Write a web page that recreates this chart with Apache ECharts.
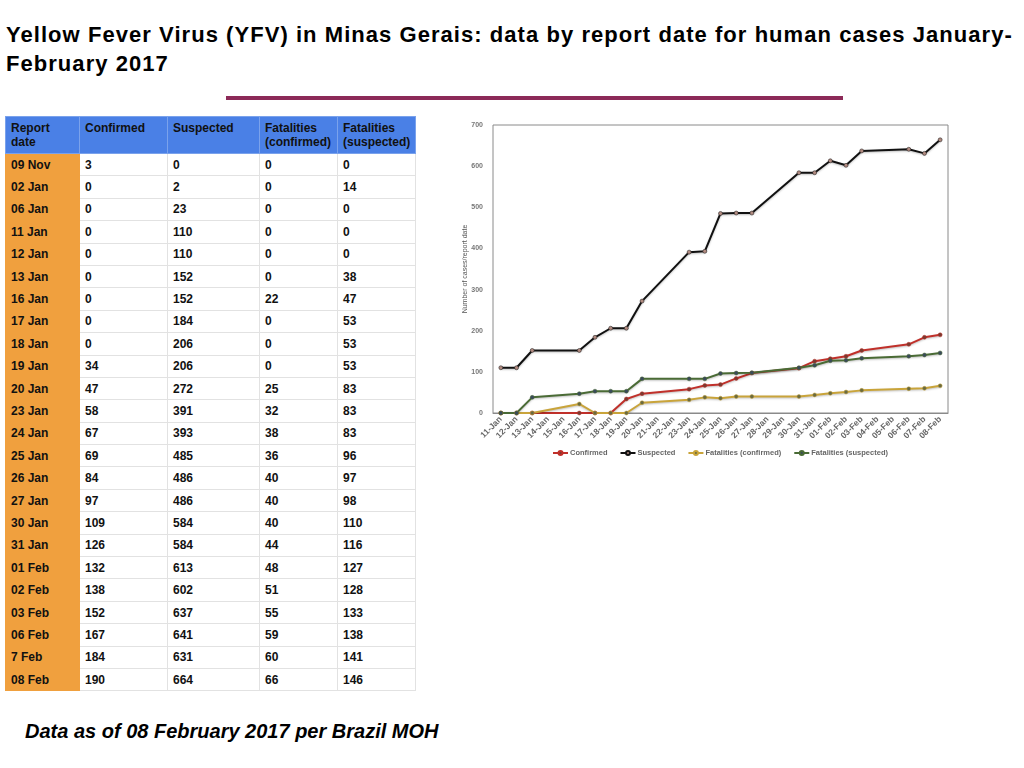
<!DOCTYPE html>
<html>
<head>
<meta charset="utf-8">
<script src="https://cdn.jsdelivr.net/npm/echarts@6/dist/echarts.min.js"></script>
<style>
  body { margin: 0; width: 1024px; height: 768px; background: #fff; font-family: "Liberation Sans", Arial, sans-serif; position: relative; overflow: hidden; }
  #title { position: absolute; left: 6px; top: 20px; font-size: 22px; letter-spacing: 1.05px; font-weight: bold; line-height: 29px; color: #000; white-space: nowrap; }
  #rule { position: absolute; left: 226px; top: 96px; width: 617px; height: 4px; background: #8c2a58; }
  #tbl { position: absolute; left: 5px; top: 116px; border-collapse: collapse; table-layout: fixed; font-size: 12px; font-weight: bold; color: #111; }
  #tbl td, #tbl th { border: 1px solid #e2e2e2; padding: 0 5px; text-align: left; vertical-align: middle; height: 22.4px; box-sizing: border-box; }
  #tbl th { background: #4a80e6; vertical-align: top; height: 37px; padding-top: 4px; line-height: 14px; border-color: #7aa2ec; }
  #tbl td.d { background: #f0a03e; border-color: #f0a03e; }
  #foot { position: absolute; left: 25px; top: 720px; font-size: 20px; font-weight: bold; font-style: italic; }
  #chart { position: absolute; left: 440px; top: 100px; width: 540px; height: 380px; }
</style>
</head>
<body>
<div id="title">Yellow Fever Virus (YFV) in Minas Gerais: data by report date for human cases January-<br>February 2017</div>
<div id="rule"></div>
<table id="tbl"></table>
<div id="foot">Data as of 08 February 2017 per Brazil MOH</div>
<div id="chart"></div>
<script>
// table columns
var headers = ['Report<br>date', 'Confirmed', 'Suspected', 'Fatalities<br>(confirmed)', 'Fatalities<br>(suspected)']
var reportDates = ['09 Nov', '02 Jan', '06 Jan', '11 Jan', '12 Jan', '13 Jan', '16 Jan', '17 Jan', '18 Jan', '19 Jan', '20 Jan', '23 Jan', '24 Jan', '25 Jan', '26 Jan', '27 Jan', '30 Jan', '31 Jan', '01 Feb', '02 Feb', '03 Feb', '06 Feb', '7 Feb', '08 Feb']
var confirmed = [3, 0, 0, 0, 0, 0, 0, 0, 0, 34, 47, 58, 67, 69, 84, 97, 109, 126, 132, 138, 152, 167, 184, 190]
var suspected = [0, 2, 23, 110, 110, 152, 152, 184, 206, 206, 272, 391, 393, 485, 486, 486, 584, 584, 613, 602, 637, 641, 631, 664]
var fatalConfirmed = [0, 0, 0, 0, 0, 0, 22, 0, 0, 0, 25, 32, 38, 36, 40, 40, 40, 44, 48, 51, 55, 59, 60, 66]
var fatalSuspected = [0, 14, 0, 0, 0, 38, 47, 53, 53, 53, 83, 83, 83, 96, 97, 98, 110, 116, 127, 128, 133, 138, 141, 146]

// chart x axis categories
var axisDates = ['11-Jan', '12-Jan', '13-Jan', '14-Jan', '15-Jan', '16-Jan', '17-Jan', '18-Jan', '19-Jan', '20-Jan',
  '21-Jan', '22-Jan', '23-Jan', '24-Jan', '25-Jan', '26-Jan', '27-Jan', '28-Jan', '29-Jan', '30-Jan', '31-Jan',
  '01-Feb', '02-Feb', '03-Feb', '04-Feb', '05-Feb', '06-Feb', '07-Feb', '08-Feb']
var yTicks = [0, 100, 200, 300, 400, 500, 600, 700]

// build the table
var tbl = document.getElementById('tbl')
var colW = [74, 88, 92, 78, 77]
var html = '<tr>' + headers.map(function (h, i) { return '<th style="width:' + colW[i] + 'px">' + h + '</th>' }).join('') + '</tr>'
reportDates.forEach(function (d, i) {
  html += '<tr><td class="d">' + d + '</td><td>' + confirmed[i] + '</td><td>' + suspected[i] +
    '</td><td>' + fatalConfirmed[i] + '</td><td>' + fatalSuspected[i] + '</td></tr>'
})
tbl.innerHTML = html

// map report dates onto the chart categories
function toKey (d) {
  var p = d.split(' ')
  return (p[0].length < 2 ? '0' + p[0] : p[0]) + '-' + p[1]
}
function seriesData (vals) {
  var out = axisDates.map(function () { return null })
  reportDates.forEach(function (d, i) {
    var idx = axisDates.indexOf(toKey(d))
    if (idx >= 0) out[idx] = vals[i]
  })
  return out
}

function line (name, vals, color, dot) {
  return {
    name: name,
    type: 'line',
    data: seriesData(vals),
    connectNulls: true,
    symbol: 'circle',
    symbolSize: 4,
    lineStyle: { color: color, width: 2, shadowColor: 'rgba(0,0,0,0.25)', shadowBlur: 2, shadowOffsetY: 1 },
    itemStyle: { color: dot, borderColor: color, borderWidth: 0.5 },
    color: color
  }
}

var myChart = echarts.init(document.getElementById('chart'))
myChart.setOption({
  animation: false,
  textStyle: { fontFamily: 'Liberation Sans, Arial, sans-serif' },
  grid: { left: 53, top: 25, right: 32, bottom: 67, show: true, borderColor: '#8a8a8a', borderWidth: 1 },
  legend: {
    top: 344,
    left: 107,
    itemWidth: 15,
    itemHeight: 5,
    itemGap: 12,
    textStyle: { fontSize: 7.5, color: '#666', fontWeight: 'bold', padding: [0, 0, 0, -3] },
    data: ['Confirmed', 'Suspected', 'Fatalities (confirmed)', 'Fatalities (suspected)']
  },
  xAxis: {
    type: 'category',
    data: axisDates,
    boundaryGap: true,
    axisLine: { lineStyle: { color: '#8a8a8a' } },
    axisTick: { show: false },
    axisLabel: { rotate: 45, fontSize: 8.5, color: '#666', fontWeight: 'bold', interval: 0, margin: 5 }
  },
  yAxis: {
    type: 'value',
    min: yTicks[0],
    max: yTicks[yTicks.length - 1],
    interval: 100,
    name: 'Number of cases/report date',
    nameLocation: 'middle',
    nameGap: 24,
    nameMoveOverlap: false,
    nameTextStyle: { fontSize: 7, color: '#555' },
    splitLine: { show: false },
    axisLine: { show: false },
    axisTick: { show: false },
    axisLabel: { fontSize: 7, color: '#777', fontWeight: 'bold', margin: 10 }
  },
  series: [
    line('Confirmed', confirmed, '#c0302a', '#7a3a30'),
    line('Suspected', suspected, '#111111', '#b08a80'),
    line('Fatalities (confirmed)', fatalConfirmed, '#c9a43a', '#6a6a40'),
    line('Fatalities (suspected)', fatalSuspected, '#4a6b35', '#3a4a5a')
  ]
})
</script>
</body>
</html>
